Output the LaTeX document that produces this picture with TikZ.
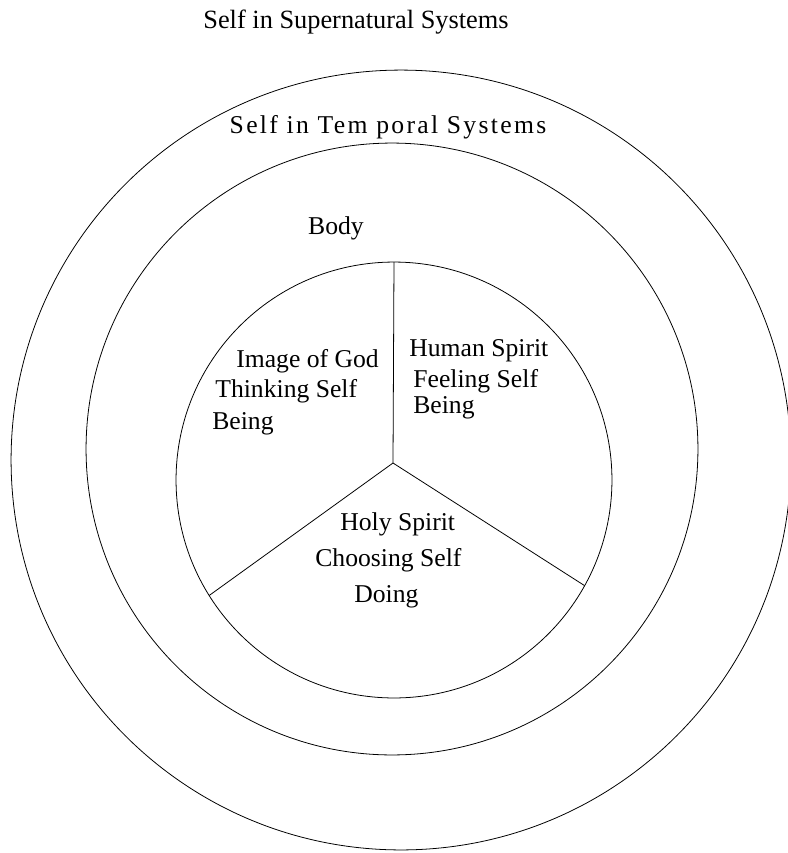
\documentclass[tikz,border=0pt]{standalone}
\usepackage{fontspec}
\setmainfont{Liberation Serif}
\newfontfamily\spacedfont[LetterSpace=9]{Liberation Serif}

\begin{document}
\begin{tikzpicture}[x=0.02cm,y=-0.02cm,
		ring/.style={circle,draw,line width=0.45pt,inner sep=0pt,outer sep=0pt},
		txt/.style={inner sep=0pt,anchor=base west,font=\fontsize{14.6}{17}\selectfont},
		title/.style={inner sep=0pt,anchor=base,font=\fontsize{14.6}{17}\selectfont}]
			\useasboundingbox (0,0) rectangle (788,853);

			\node[ring,minimum size=15.6cm] (outer) at (401,460) {};
			\node[ring,minimum size=12.24cm] (middle) at (392,449) {};
			\node[ring,minimum size=8.72cm] (inner) at (394,480) {};
			\coordinate (hub) at (393,463);

			\draw[line width=0.45pt] (inner.north) -- (hub);
			\draw[line width=0.45pt] (hub) -- (inner.212.7);
			\draw[line width=0.45pt] (hub) -- (inner.-29);

			\node[title,font=\fontsize{15}{17}\selectfont] (supernatural) at (356,28) {Self in Supernatural Systems};
			\node[title,font=\fontsize{14.6}{17}\spacedfont] (temporal) at (388,133) {Self in Tem poral Systems};
			\node[title] (body) at (336,234) {Body};

			\node[txt] (god) at (236,367) {Image of God};
			\node[txt] (thinking) at (215,397) {Thinking Self};
			\node[txt] (beingl) at (212,429) {Being};

			\node[txt] (human) at (409,356) {Human Spirit};
			\node[txt] (feeling) at (413,387) {Feeling Self};
			\node[txt] (beingr) at (413,413) {Being};

			\node[txt] (holy) at (340,530) {Holy Spirit};
			\node[txt] (choosing) at (315,566) {Choosing Self};
			\node[txt] (doing) at (354,602) {Doing};
		\end{tikzpicture}
\end{document}
